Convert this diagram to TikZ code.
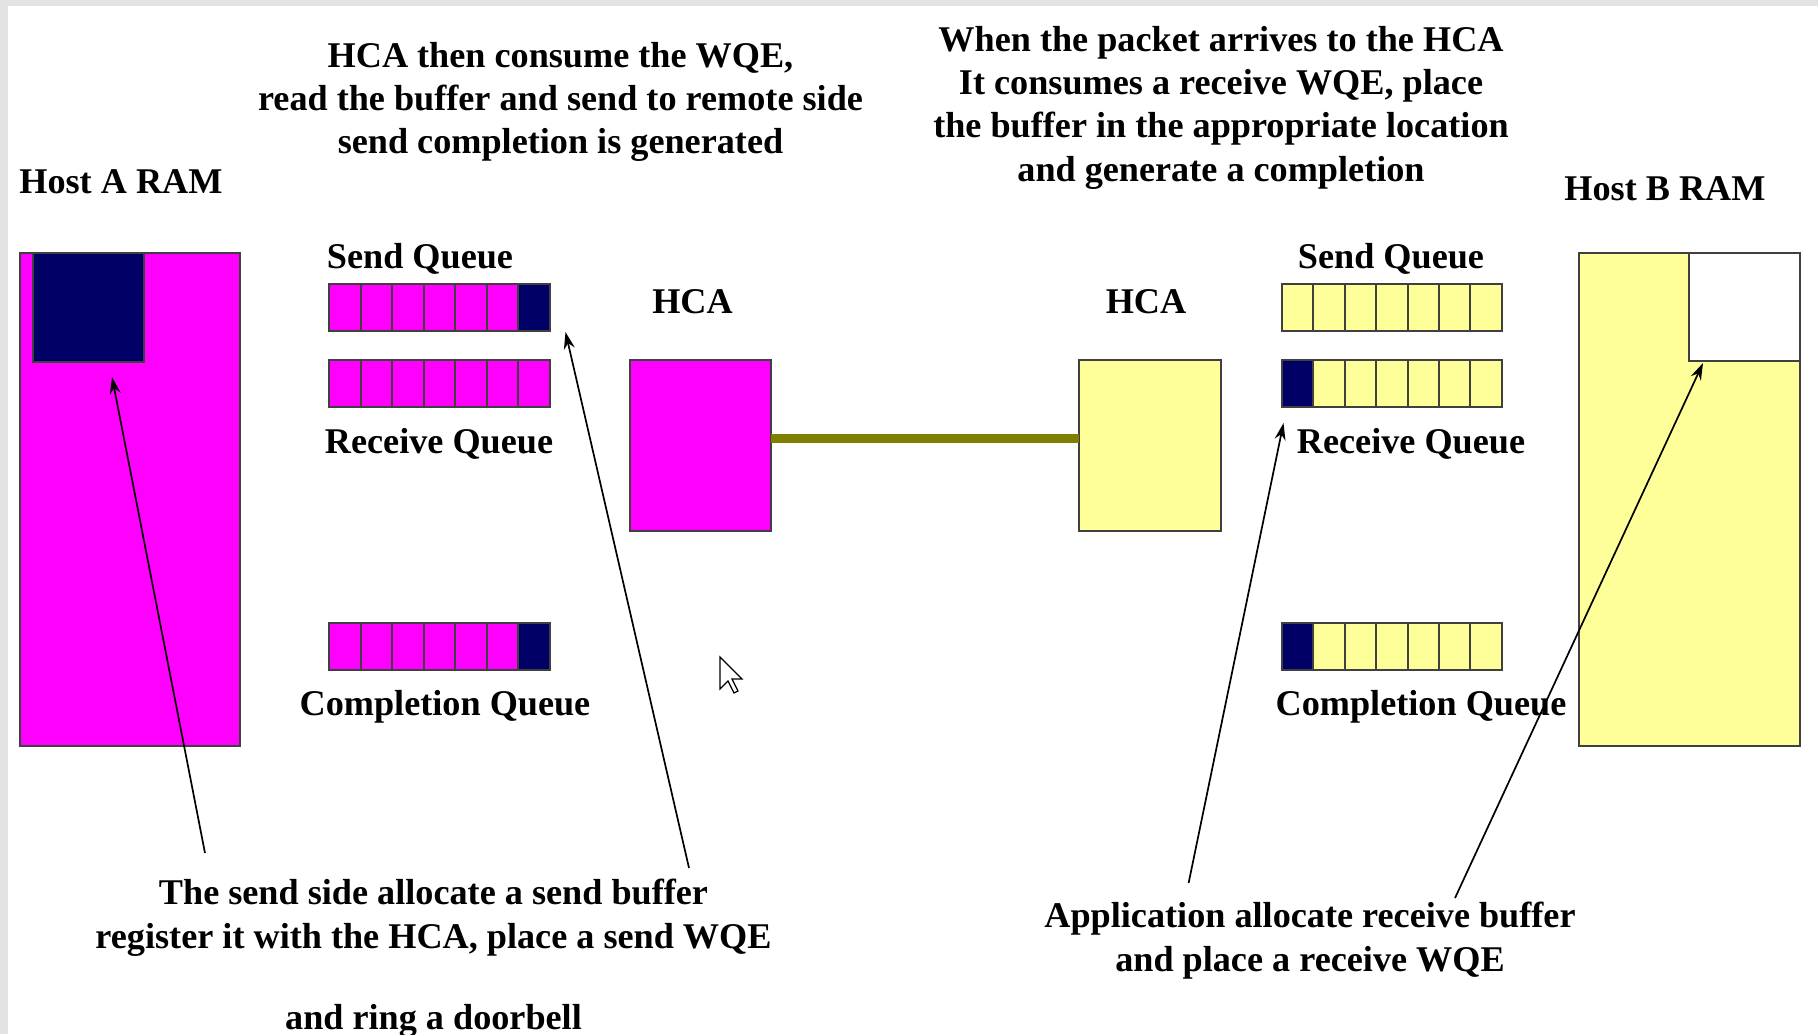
\documentclass[tikz,border=0pt]{standalone}
\usepackage{fontspec}
\setmainfont{Liberation Serif}
\usetikzlibrary{arrows.meta,calc}
\definecolor{mag}{HTML}{FF00FF}
\definecolor{navy}{HTML}{000066}
\definecolor{pale}{HTML}{FFFF99}
\definecolor{olivex}{HTML}{808000}
\begin{document}
\begin{tikzpicture}[x=0.5pt,y=-0.5pt,
  box/.style={draw=black!75,line width=1pt,inner sep=0pt,outer sep=0pt},
  cellA/.style={box,minimum width=15.785pt,minimum height=23.5pt},
  cellB/.style={box,minimum width=15.7pt,minimum height=23.5pt},
  lbl/.style={font=\fontsize{18.1}{21.6}\selectfont\bfseries,inner sep=0pt,anchor=base},
  note/.style={font=\fontsize{18.1}{21.6}\selectfont\bfseries,inner sep=0pt,align=center,anchor=north},
  ptr/.style={draw=black,line width=0.85pt,-{Stealth[length=8.5pt,width=5.5pt]}}]
\fill[black!11] (0,0) rectangle (1818,1034);
\fill[white] (8,6) rectangle (1818,1034);
\useasboundingbox (0,0) rectangle (1818,1034);

% Host A
\node[box,fill=mag,minimum width=110pt,minimum height=246.5pt] (ramA) at (130,499.5) {};
\node[box,fill=navy,minimum width=55.25pt,minimum height=54.5pt] (bufA) at (88.25,307.5) {};
\node[lbl,anchor=base west] (hostA) at (19,193) {Host A RAM};

% Host B
\node[box,fill=pale,minimum width=110.5pt,minimum height=246.5pt] (ramB) at (1689.5,499.5) {};
\node[box,fill=white,minimum width=55.5pt,minimum height=54pt] (bufB) at (1744.5,307) {};
\node[lbl,anchor=base west] (hostB) at (1564,200) {Host B RAM};

% HCAs
\node[box,fill=mag,minimum width=70.5pt,minimum height=85.5pt] (hcaA) at (700.5,445.5) {};
\node[box,fill=pale,minimum width=71pt,minimum height=85.5pt] (hcaB) at (1150,445.5) {};
\node[lbl] (hcaAl) at (692.5,313) {HCA};
\node[lbl] (hcaBl) at (1146,313) {HCA};
\draw[olivex,line width=4.5pt] ([yshift=3.75pt]hcaA.east) -- ([yshift=3.75pt]hcaB.west);

% Queues A
\foreach \i/\c in {0/mag,1/mag,2/mag,3/mag,4/mag,5/mag,6/navy}{
  \node[cellA,fill=\c] (sqA\i) at (344.785+31.57*\i,307.5) {};
  \node[cellA,fill=\c] (cqA\i) at (344.785+31.57*\i,646) {};
}
\foreach \i in {0,...,6}{
  \node[cellA,fill=mag] (rqA\i) at (344.785+31.57*\i,383.5) {};
}
\node[lbl] (sqAl) at (420,268) {Send Queue};
\node[lbl] (rqAl) at (439,453) {Receive Queue};
\node[lbl] (cqAl) at (445,715) {Completion Queue};

% Queues B
\foreach \i in {0,...,6}{
  \node[cellB,fill=pale] (sqB\i) at (1297.7+31.4*\i,307.5) {};
}
\foreach \i/\c in {0/navy,1/pale,2/pale,3/pale,4/pale,5/pale,6/pale}{
  \node[cellB,fill=\c] (rqB\i) at (1297.7+31.4*\i,383.5) {};
  \node[cellB,fill=\c] (cqB\i) at (1297.7+31.4*\i,646) {};
}
\node[lbl] (sqBl) at (1391,268) {Send Queue};
\node[lbl] (rqBl) at (1411,453) {Receive Queue};
\node[lbl] (cqBl) at (1421,715) {Completion Queue};

% Notes
\node[note] (topA) at (560.5,42) {HCA then consume the WQE,\\read the buffer and send to remote side\\send completion is generated};
\node[note] (topB) at (1221,26) {When the packet arrives to the HCA\\It consumes a receive WQE, place\\the buffer in the appropriate location\\and generate a completion};
\node[note] (botA) at (433.5,879) {The send side allocate a send buffer\\register it with the HCA, place a send WQE\\[19pt]and ring a doorbell};
\node[note] (botB) at (1310,902) {Application allocate receive buffer\\and place a receive WQE};

% Pointers
\coordinate (t1) at (205,853);
\coordinate (t2) at (689,868);
\coordinate (t3) at (1188.6,883);
\coordinate (t4) at (1455,898);
\coordinate (h1) at ($(bufA.south west)+(79,15)$);
\coordinate (h2) at ($(sqA6.south east)+(15.5,1)$);
\coordinate (h3) at ($(rqB0.south west)+(1.5,16)$);
\coordinate (h4) at ($(bufB.south west)+(14,2)$);
\draw[ptr] (t1) -- (h1);
\draw[ptr] (t2) -- (h2);
\draw[ptr] (t3) -- (h3);
\draw[ptr] (t4) -- (h4);

% Mouse cursor
\draw[fill=white,line width=0.6pt,line join=miter] (720,657) -- (720,689) -- (728,681) -- (734,693) -- (738,691) -- (732,679) -- (742,679) -- cycle;
\end{tikzpicture}
\end{document}
